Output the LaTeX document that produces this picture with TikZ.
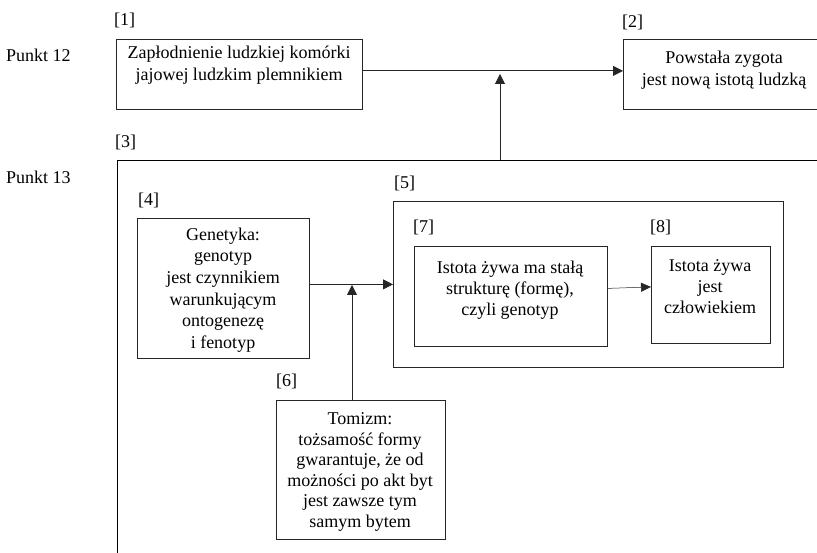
\documentclass[tikz,border=0pt]{standalone}
\usepackage{fontspec}
\setmainfont{Liberation Serif}
\usetikzlibrary{arrows.meta}
\begin{document}
\begin{tikzpicture}[x=1pt,y=-1pt,
  box/.style={draw=black!85, line width=0.8pt, rectangle, inner sep=0pt, anchor=north west},
  txt/.style={align=center, inner sep=0pt, font=\fontsize{18}{21.5}\selectfont},
  lbl/.style={inner sep=0pt, anchor=west, font=\fontsize{18}{21}\selectfont},
  arr/.style={draw=black!85, line width=0.8pt, -{Triangle[length=10pt,width=10pt]}}]
\useasboundingbox (0,0) rectangle (817,553);
\clip (0,0) rectangle (817,553);

% side labels
\node[lbl] (p12) at (6,55) {Punkt 12};
\node[lbl] (p13) at (6,177) {Punkt 13};

% boxes
\node[box, minimum width=246pt, minimum height=70pt] (b1) at (116,39) {};
\node[box, minimum width=230pt, minimum height=70pt] (b2) at (623,39) {};
\node[box, draw=black, line width=1.2pt, minimum width=800pt, minimum height=500pt] (b3) at (117,160) {};
\node[box, minimum width=172pt, minimum height=140pt] (b4) at (137,218) {};
\node[box, minimum width=390pt, minimum height=166pt] (b5) at (393,201) {};
\node[box, minimum width=193pt, minimum height=100pt] (b7) at (414,246) {};
\node[box, minimum width=119pt, minimum height=97pt] (b8) at (651,246) {};
\node[box, minimum width=169pt, minimum height=139pt] (b6) at (276,400) {};

% bracket labels
\node[lbl] (l1) at (114,20) {[1]};
\node[lbl] (l2) at (622,22) {[2]};
\node[lbl] (l3) at (115,142) {[3]};
\node[lbl] (l4) at (138,200) {[4]};
\node[lbl] (l5) at (394,183) {[5]};
\node[lbl] (l6) at (276,381) {[6]};
\node[lbl] (l7) at (413,227) {[7]};
\node[lbl] (l8) at (650,227) {[8]};

% texts
\node[txt] (t1) at (239,65) {Zapłodnienie ludzkiej komórki\\jajowej ludzkim plemnikiem};
\node[txt] (t2) at (724,70) {Powstała zygota\\jest nową istotą ludzką};
\node[txt, font=\fontsize{18}{21.7}\selectfont] (t4) at (223,290) {Genetyka:\\genotyp\\jest czynnikiem\\warunkującym\\ontogenezę\\i fenotyp};
\node[txt, font=\fontsize{18}{21}\selectfont] (t7) at (510,290) {Istota żywa ma stałą\\strukturę (formę),\\czyli genotyp};
\node[txt, font=\fontsize{18}{21}\selectfont] (t8) at (710,286.5) {Istota żywa\\jest\\człowiekiem};
\node[txt, font=\fontsize{18}{20.5}\selectfont] (t6) at (360,472) {Tomizm:\\tożsamość formy\\gwarantuje, że od\\możności po akt byt\\jest zawsze tym\\samym bytem};

% connectors
\coordinate (j1) at (500,74);
\coordinate (j2) at (352,285);
\draw[arr] ([yshift=3.5pt]b1.east) -- ([yshift=3.5pt]b2.west);
\draw[arr] (b3.north west -| j1) -- (j1);
\draw[arr] (b4.east |- b5.west) -- (b5.west);
\draw[arr] (b6.north -| j2) -- (j2);
\draw[arr, line width=0.5pt, -{Triangle[length=10pt,width=9pt]}] ([yshift=8pt]b7.east) -- ([yshift=8pt]b8.west);
\end{tikzpicture}
\end{document}
